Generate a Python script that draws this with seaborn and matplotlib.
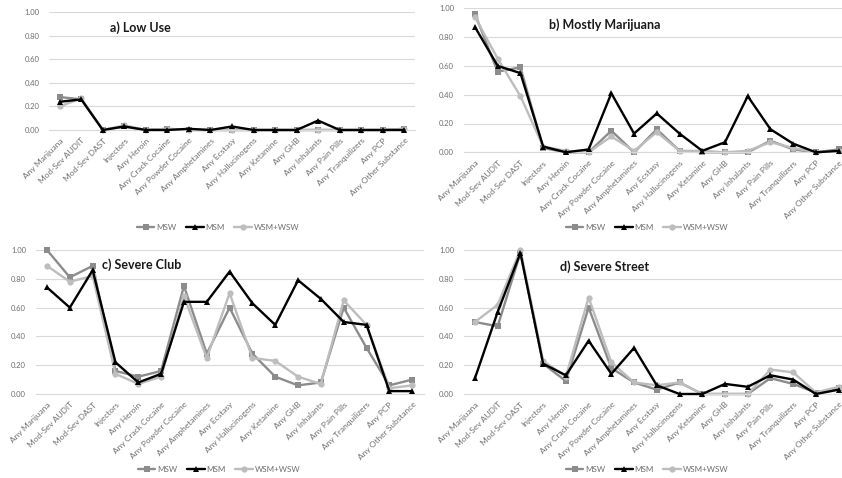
import matplotlib
matplotlib.use("Agg")
import matplotlib.pyplot as plt
import seaborn as sns
import pandas as pd
from matplotlib.lines import Line2D

categories = ["Any Marijuana", "Mod-Sev AUDIT", "Mod-Sev DAST", "Injectors", "Any Heroin",
              "Any Crack Cocaine", "Any Powder Cocaine", "Any Amphetamines", "Any Ecstasy",
              "Any Hallucinogens", "Any Ketamine", "Any GHB", "Any Inhalants", "Any Pain Pills",
              "Any Tranquilizers", "Any PCP", "Any Other Substance"]
groups = ["MSW", "MSM", "WSM+WSW"]
yticks = [0.0, 0.2, 0.4, 0.6, 0.8, 1.0]

# a) Low Use
a_msw = [0.28, 0.26, 0.00, 0.03, 0.00, 0.01, 0.00, 0.00, 0.00, 0.00, 0.00, 0.00, 0.00, 0.00, 0.00, 0.00, 0.01]
a_msm = [0.24, 0.26, 0.00, 0.03, 0.00, 0.00, 0.01, 0.00, 0.03, 0.00, 0.00, 0.00, 0.08, 0.00, 0.00, 0.00, 0.00]
a_wsm = [0.20, 0.27, 0.00, 0.04, 0.00, 0.01, 0.00, 0.00, 0.00, 0.00, 0.00, 0.00, 0.00, 0.00, 0.00, 0.00, 0.01]
# b) Mostly Marijuana
b_msw = [0.96, 0.56, 0.59, 0.03, 0.00, 0.00, 0.15, 0.00, 0.16, 0.01, 0.00, 0.00, 0.00, 0.08, 0.02, 0.00, 0.02]
b_msm = [0.87, 0.60, 0.55, 0.04, 0.00, 0.02, 0.41, 0.13, 0.27, 0.13, 0.01, 0.07, 0.39, 0.16, 0.06, 0.00, 0.01]
b_wsm = [0.94, 0.65, 0.39, 0.04, 0.01, 0.00, 0.11, 0.01, 0.14, 0.01, 0.01, 0.00, 0.01, 0.07, 0.03, 0.00, 0.01]
# c) Severe Club
c_msw = [1.00, 0.81, 0.89, 0.16, 0.12, 0.16, 0.75, 0.28, 0.60, 0.28, 0.12, 0.06, 0.08, 0.60, 0.32, 0.06, 0.10]
c_msm = [0.74, 0.60, 0.86, 0.22, 0.08, 0.14, 0.64, 0.64, 0.85, 0.63, 0.48, 0.79, 0.66, 0.50, 0.48, 0.02, 0.02]
c_wsm = [0.89, 0.78, 0.82, 0.14, 0.07, 0.12, 0.68, 0.25, 0.70, 0.25, 0.23, 0.12, 0.07, 0.65, 0.48, 0.04, 0.06]
# d) Severe Street
d_msw = [0.50, 0.47, 0.98, 0.21, 0.09, 0.60, 0.18, 0.08, 0.03, 0.08, 0.00, 0.00, 0.00, 0.11, 0.07, 0.01, 0.04]
d_msm = [0.11, 0.57, 0.98, 0.21, 0.13, 0.37, 0.14, 0.32, 0.06, 0.00, 0.00, 0.07, 0.05, 0.13, 0.10, 0.00, 0.03]
d_wsm = [0.50, 0.62, 1.00, 0.23, 0.12, 0.67, 0.22, 0.08, 0.06, 0.08, 0.00, 0.00, 0.00, 0.17, 0.15, 0.01, 0.05]

titles = ["a) Low Use", "b) Mostly Marijuana", "c) Severe Club", "d) Severe Street"]
panels = [(a_msw, a_msm, a_wsm), (b_msw, b_msm, b_wsm), (c_msw, c_msm, c_wsm), (d_msw, d_msm, d_wsm)]

sns.set_theme(style="white")
plt.rcParams["font.family"] = ["Lato", "DejaVu Sans"]

W, H = 842, 478
fig = plt.figure(figsize=(W / 100, H / 100), dpi=100)

def rect(x0, yt, x1, yb):
    return [x0 / W, 1 - yb / H, (x1 - x0) / W, (yb - yt) / H]

axes_px = [(49, 12.3, 415, 130), (463.6, 8.3, 850, 152.3), (35.6, 250, 423.6, 394), (463.6, 250, 850, 394)]
title_px = [(110, 28), (549, 25), (102, 265), (560, 267)]
legend_px = [(218, 227), (647, 227), (219, 469), (647, 469)]

palette = {"MSW": "#8c8c8c", "MSM": "#000000", "WSM+WSW": "#bdbdbd"}
markers = {"MSW": "s", "MSM": "^", "WSM+WSW": "o"}
order_draw = ["MSW", "WSM+WSW", "MSM"]
tick_color = "#6f6f6f"

for i, (vals, title) in enumerate(zip(panels, titles)):
    ax = fig.add_axes(rect(*axes_px[i]))
    rows = []
    for g, v in zip(groups, vals):
        for j, y in enumerate(v):
            rows.append({"x": j, "y": y, "group": g})
    df = pd.DataFrame(rows)
    for g in order_draw:
        sub = df[df["group"] == g]
        sns.lineplot(data=sub, x="x", y="y", color=palette[g], marker=markers[g],
                     markersize=4.5, markeredgewidth=0, linewidth=1.7, ax=ax,
                     legend=False, clip_on=False, zorder=3 if g == "MSM" else 2)
    ax.set_xlim(-0.5, len(categories) - 0.5)
    ax.set_ylim(0, 1.0)
    ax.set_yticks(yticks)
    ax.set_yticklabels([f"{t:.2f}" for t in yticks], fontsize=5.5, color=tick_color)
    ax.set_xticks(range(len(categories)))
    ax.set_xticklabels(categories, rotation=45, ha="right", rotation_mode="anchor",
                       fontsize=6, color=tick_color)
    ax.tick_params(axis="both", length=0, pad=5)
    ax.tick_params(axis="y", pad=7)
    ax.set_xlabel("")
    ax.set_ylabel("")
    ax.grid(axis="y", color="#d9d9d9", linewidth=0.8)
    ax.set_axisbelow(True)
    for s in ["top", "right", "left"]:
        ax.spines[s].set_visible(False)
    ax.spines["bottom"].set_color("#d9d9d9")
    ax.spines["bottom"].set_linewidth(0.8)
    tx, ty = title_px[i]
    fig.text(tx / W, 1 - ty / H, title, fontsize=9, fontweight="bold", ha="left", va="center",
             color="#1a1a1a")
    handles = [Line2D([0], [0], color=palette[g], marker=markers[g], markersize=4.5,
                      markeredgewidth=0, linewidth=1.7) for g in groups]
    lx, ly = legend_px[i]
    fig.legend(handles, groups, loc="center", bbox_to_anchor=(lx / W, 1 - ly / H), ncol=3,
               frameon=False, fontsize=5.8, handlelength=2.2, handletextpad=0.2,
               columnspacing=1.2, labelcolor=tick_color)

fig.savefig("out.png", dpi=100)
